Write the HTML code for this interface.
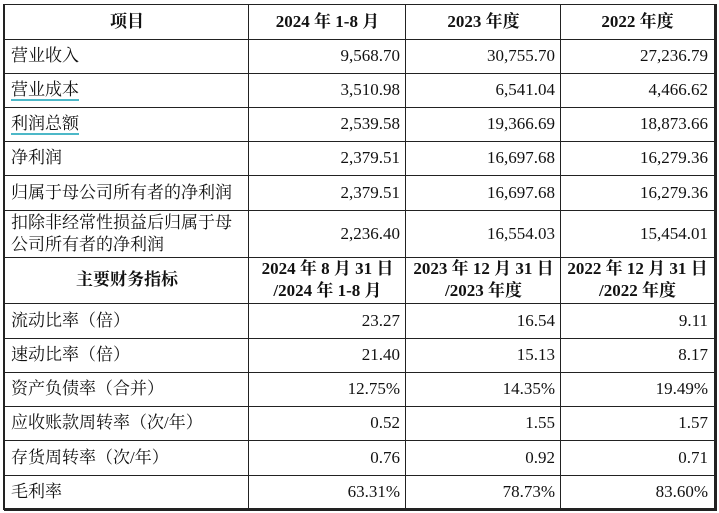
<!DOCTYPE html>
<html><head><meta charset="utf-8"><style>
body{margin:0;width:719px;height:513px;background:#fff;overflow:hidden;position:relative;font-family:"Liberation Serif","Noto Serif CJK SC",serif;font-size:17px;color:#111}
.h{position:absolute;left:4px;width:712px;height:1px;background:#222}
.v{position:absolute;top:4px;height:506px;width:1px;background:#222}
.c{position:absolute;display:flex;align-items:center;box-sizing:border-box;line-height:22px}
.l{justify-content:flex-start;padding-left:6px}
.r{justify-content:flex-end;padding-right:6px}
.m{justify-content:center;text-align:center;font-weight:bold}
.u{border-bottom:2px solid #4cb8c8;line-height:20px}
</style></head><body>
<div class="h" style="top:4px"></div>
<div class="h" style="top:39px"></div>
<div class="h" style="top:73px"></div>
<div class="h" style="top:107px"></div>
<div class="h" style="top:141px"></div>
<div class="h" style="top:175px"></div>
<div class="h" style="top:210px"></div>
<div class="h" style="top:257px"></div>
<div class="h" style="top:303px"></div>
<div class="h" style="top:338px"></div>
<div class="h" style="top:372px"></div>
<div class="h" style="top:406px"></div>
<div class="h" style="top:440px"></div>
<div class="h" style="top:475px"></div>
<div class="h" style="top:508px;height:3px"></div>
<div class="v" style="left:3px;width:2px"></div>
<div class="v" style="left:248px"></div>
<div class="v" style="left:405px"></div>
<div class="v" style="left:560px"></div>
<div class="v" style="left:714px;width:3px;height:507px"></div>

<div id="t"></div>
<script>
var rows=[
[4,39,'项目','2024 年 1-8 月','2023 年度','2022 年度',1],
[39,73,'营业收入','9,568.70','30,755.70','27,236.79'],
[73,107,'<span class="u">营业成本</span>','3,510.98','6,541.04','4,466.62'],
[107,141,'<span class="u">利润总额</span>','2,539.58','19,366.69','18,873.66'],
[141,175,'净利润','2,379.51','16,697.68','16,279.36'],
[175,210,'归属于母公司所有者的净利润','2,379.51','16,697.68','16,279.36'],
[210,257,'扣除非经常性损益后归属于母<br>公司所有者的净利润','2,236.40','16,554.03','15,454.01'],
[257,303,'主要财务指标','2024 年 8 月 31 日<br>/2024 年 1-8 月','2023 年 12 月 31 日<br>/2023 年度','2022 年 12 月 31 日<br>/2022 年度',1],
[303,338,'流动比率（倍）','23.27','16.54','9.11'],
[338,372,'速动比率（倍）','21.40','15.13','8.17'],
[372,406,'资产负债率（合并）','12.75%','14.35%','19.49%'],
[406,440,'应收账款周转率（次/年）','0.52','1.55','1.57'],
[440,475,'存货周转率（次/年）','0.76','0.92','0.71'],
[475,509,'毛利率','63.31%','78.73%','83.60%']];
var xs=[5,249,406,561,714],h='';
rows.forEach(function(r){for(var i=0;i<4;i++){var cls=r[6]?'m':(i==0?'l':'r');
h+='<div class="c '+cls+'" style="left:'+xs[i]+'px;width:'+(xs[i+1]-xs[i])+'px;top:'+r[0]+'px;height:'+(r[1]-r[0])+'px">'+(r[6]||i==0?'<div>'+r[2+i]+'</div>':r[2+i])+'</div>';}});
document.getElementById('t').innerHTML=h;
</script>
</body></html>
